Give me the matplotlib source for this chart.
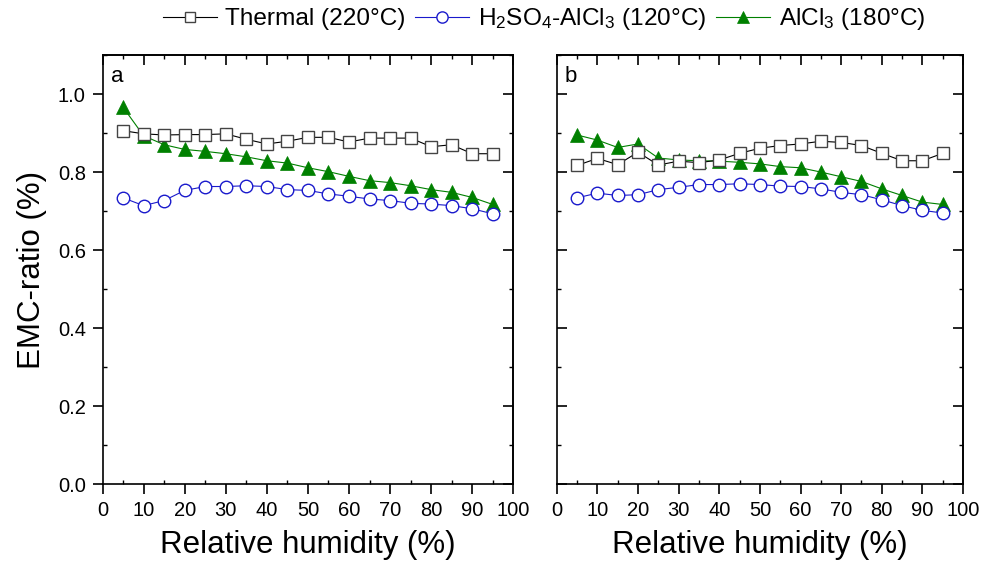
import matplotlib
matplotlib.use("Agg")
import matplotlib.pyplot as plt
from matplotlib.ticker import MultipleLocator

plt.rcParams['font.family'] = ['Liberation Sans', 'DejaVu Sans']
plt.rcParams['mathtext.fontset'] = 'custom'
plt.rcParams['mathtext.rm'] = 'Liberation Sans'
plt.rcParams['mathtext.it'] = 'Liberation Sans:italic'
plt.rcParams['mathtext.bf'] = 'Liberation Sans:bold'

rh = [5, 10, 15, 20, 25, 30, 35, 40, 45, 50, 55, 60, 65, 70, 75, 80, 85, 90, 95]

thermal_a = [0.906, 0.898, 0.895, 0.896, 0.896, 0.898, 0.884, 0.872, 0.879, 0.889,
             0.889, 0.877, 0.887, 0.887, 0.887, 0.865, 0.870, 0.847, 0.847]
acid_a = [0.734, 0.714, 0.727, 0.753, 0.763, 0.763, 0.765, 0.763, 0.755, 0.753,
          0.744, 0.738, 0.731, 0.727, 0.720, 0.718, 0.714, 0.706, 0.693]
alcl3_a = [0.966, 0.893, 0.870, 0.858, 0.853, 0.847, 0.839, 0.829, 0.823, 0.811,
           0.801, 0.789, 0.778, 0.773, 0.765, 0.755, 0.748, 0.735, 0.717]

thermal_b = [0.817, 0.835, 0.819, 0.851, 0.818, 0.828, 0.824, 0.831, 0.848, 0.861,
             0.868, 0.872, 0.879, 0.876, 0.868, 0.848, 0.829, 0.829, 0.848]
acid_b = [0.734, 0.746, 0.740, 0.742, 0.755, 0.761, 0.768, 0.768, 0.770, 0.768,
          0.764, 0.763, 0.757, 0.748, 0.742, 0.729, 0.714, 0.702, 0.695]
alcl3_b = [0.895, 0.882, 0.863, 0.872, 0.836, 0.831, 0.829, 0.828, 0.825, 0.821,
           0.814, 0.811, 0.800, 0.788, 0.776, 0.757, 0.740, 0.723, 0.717]

labels = ['Thermal (220°C)', r'H$_\mathregular{2}$SO$_\mathregular{4}$-AlCl$_\mathregular{3}$ (120°C)',
          r'AlCl$_\mathregular{3}$ (180°C)']
panel_names = ['a', 'b']

fig = plt.figure(figsize=(9.85, 5.65), dpi=100)
axa = fig.add_axes([0.1041, 0.1428, 0.4170, 0.7599])
axb = fig.add_axes([0.5652, 0.1428, 0.4125, 0.7599])

green = '#008000'
blue = '#1a1acc'

def draw(ax, th, ac, al, name, show_ylabels):
    l1, = ax.plot(rh, th, '-s', color='black', lw=0.8, ms=8, mfc='white',
                  mec='#444444', mew=1.0, zorder=3)
    l2, = ax.plot(rh, ac, '-o', color=blue, lw=0.8, ms=9, mfc='white',
                  mec=blue, mew=1.0, zorder=3)
    l3, = ax.plot(rh, al, '-^', color=green, lw=0.8, ms=10, mfc=green,
                  mec=green, mew=0.5, zorder=2)
    ax.set_xlim(0, 100)
    ax.set_ylim(0, 1.1)
    ax.xaxis.set_major_locator(MultipleLocator(10))
    ax.xaxis.set_minor_locator(MultipleLocator(5))
    ax.yaxis.set_major_locator(MultipleLocator(0.2))
    ax.yaxis.set_minor_locator(MultipleLocator(0.1))
    ax.yaxis.set_major_formatter(matplotlib.ticker.FormatStrFormatter('%.1f'))
    for s in ax.spines.values():
        s.set_linewidth(1.2)
    ax.tick_params(axis='x', which='major', direction='out', length=7, width=1.2,
                   labelsize=14.5, pad=5)
    ax.tick_params(axis='y', which='major', direction='out' if show_ylabels else 'in',
                   length=7, width=1.2, labelsize=14.5, pad=5, labelleft=show_ylabels)
    ax.tick_params(which='minor', direction='in', length=3, width=1.0)
    sx = ax.secondary_xaxis('top')
    sx.xaxis.set_major_locator(MultipleLocator(10))
    sx.xaxis.set_minor_locator(MultipleLocator(5))
    sx.tick_params(which='major', direction='in', length=7, width=1.2, labeltop=False)
    sx.tick_params(which='minor', direction='in', length=3, width=1.0)
    sx.spines['top'].set_linewidth(1.2)
    sy = ax.secondary_yaxis('right')
    sy.yaxis.set_major_locator(MultipleLocator(0.2))
    sy.yaxis.set_minor_locator(MultipleLocator(0.1))
    sy.tick_params(which='major', direction='in', length=7, width=1.2, labelright=False)
    sy.tick_params(which='minor', direction='in', length=3, width=1.0)
    sy.spines['right'].set_linewidth(1.2)
    ax.set_xlabel('Relative humidity (%)', fontsize=22.5, labelpad=7)
    ax.text(0.02, 0.975, name, transform=ax.transAxes, fontsize=16,
            va='top', ha='left')
    return l1, l2, l3

handles = draw(axa, thermal_a, acid_a, alcl3_a, panel_names[0], True)
draw(axb, thermal_b, acid_b, alcl3_b, panel_names[1], False)
axa.set_ylabel('EMC-ratio (%)', fontsize=22.5, labelpad=8)

fig.legend(handles, labels, loc='center', bbox_to_anchor=(544 / 985, 0.966),
           ncol=3, frameon=False, fontsize=17.6, handlelength=2.2, markerscale=0.9,
           columnspacing=0.4, handletextpad=0.36, borderpad=0, borderaxespad=0)

fig.savefig('out.png', dpi=100)
